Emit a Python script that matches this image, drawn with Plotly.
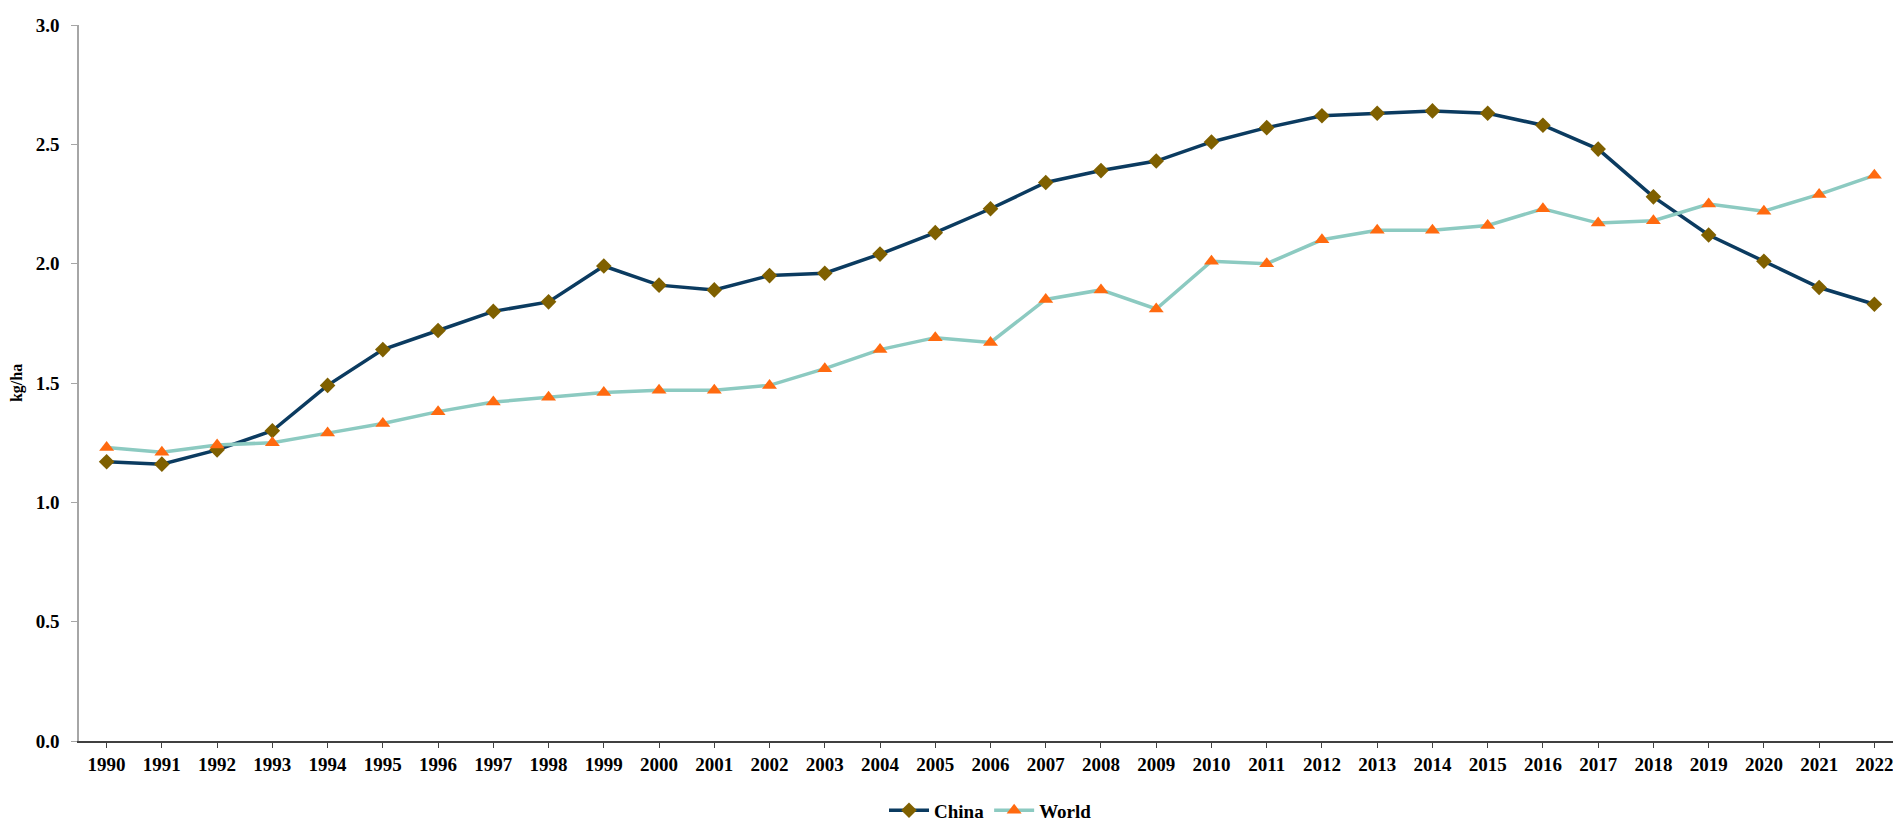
import plotly.graph_objects as go

years = [str(y) for y in range(1990, 2023)]
china = [1.17, 1.16, 1.22, 1.30, 1.49, 1.64, 1.72, 1.80, 1.84, 1.99, 1.91, 1.89, 1.95, 1.96,
         2.04, 2.13, 2.23, 2.34, 2.39, 2.43, 2.51, 2.57, 2.62, 2.63, 2.64, 2.63, 2.58, 2.48,
         2.28, 2.12, 2.01, 1.90, 1.83]
world = [1.23, 1.21, 1.24, 1.25, 1.29, 1.33, 1.38, 1.42, 1.44, 1.46, 1.47, 1.47, 1.49, 1.56,
         1.64, 1.69, 1.67, 1.85, 1.89, 1.81, 2.01, 2.00, 2.10, 2.14, 2.14, 2.16, 2.23, 2.17,
         2.18, 2.25, 2.22, 2.29, 2.37]

font_family = "Liberation Serif"

fig = go.Figure()
fig.add_trace(go.Scatter(
    x=years, y=china, name="China", mode="lines+markers",
    line=dict(color="#0b3b60", width=3.5),
    marker=dict(symbol="diamond", size=12, color="#7f6000"),
))
fig.add_trace(go.Scatter(
    x=years, y=world, name="World", mode="lines+markers",
    line=dict(color="#8ccac1", width=3.5),
    marker=dict(symbol="triangle-up", size=13, color="#ff6a10"),
))

fig.update_layout(
    width=1901, height=828,
    margin=dict(l=68, r=7, t=13, b=84),
    paper_bgcolor="white", plot_bgcolor="white",
    font=dict(family=font_family, size=19, color="black"),
    showlegend=True,
    legend=dict(orientation="h", x=0.5, xanchor="center", y=-0.097, yanchor="middle",
                font=dict(family=font_family, size=19, color="black", weight="bold"),
                itemwidth=40),
)
fig.update_xaxes(
    type="category", range=[-0.5, 32.5],
    showline=True, linecolor="#404040", linewidth=1.5,
    ticks="outside", ticklen=5, tickcolor="#404040",
    showgrid=False, zeroline=False,
    tickfont=dict(family=font_family, size=19, color="black", weight="bold"),
)
fig.update_yaxes(
    range=[0, 3], dtick=0.5, tickformat=".1f",
    showline=True, linecolor="#a6a6a6", linewidth=1.5,
    ticks="outside", ticklen=6, tickcolor="#a6a6a6",
    ticklabelstandoff=8,
    showgrid=False, zeroline=False,
    tickfont=dict(family=font_family, size=19, color="black", weight="bold"),
    title=dict(text="kg/ha", standoff=10,
               font=dict(family=font_family, size=16, color="black", weight="bold")),
)

fig.write_html("out.html")
